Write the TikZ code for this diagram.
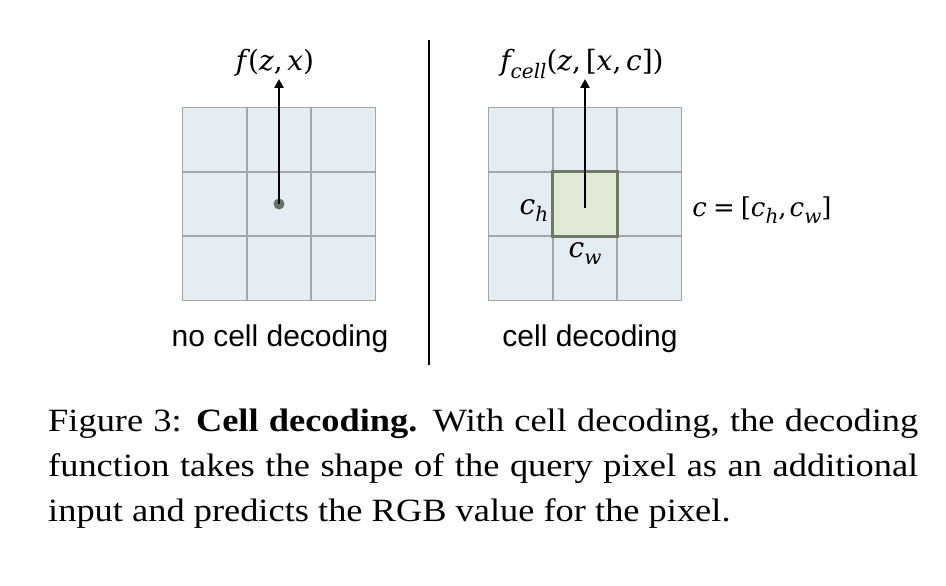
\documentclass[tikz,border=0pt]{standalone}
\usepackage{fontspec}
\setmainfont{Liberation Serif}
\newfontfamily\capfont[FakeStretch=1.12]{Liberation Serif}
\newfontfamily\labelfont{Liberation Sans}
\newfontfamily\mfont{DejaVu Serif}
\newcommand\mv[1]{{\itshape #1}}
\newcommand\msub[1]{\raisebox{-0.27em}{\fontsize{20}{20}\selectfont\itshape #1}}
\usetikzlibrary{arrows.meta}
\definecolor{cellfill}{HTML}{E4ECF4}
\definecolor{cellline}{HTML}{A6A6A6}
\definecolor{qfill}{HTML}{E2EAD6}
\definecolor{qline}{HTML}{6E7866}
\definecolor{dotc}{HTML}{6B7163}
\tikzset{
  gridcell/.style={draw=cellline, fill=cellfill, line width=1.6pt},
  querycell/.style={draw=qline, fill=qfill, line width=3pt},
  uparrow/.style={-{Triangle[length=9pt,width=9pt]}, line width=2.8pt, black},
  mathlbl/.style={font=\mfont\fontsize{28}{34}\selectfont, inner sep=0pt, anchor=base},
  sublbl/.style={font=\labelfont\fontsize{30}{34}\selectfont, inner sep=0pt, anchor=base},
  caplbl/.style={font=\capfont\fontsize{32.5}{40}\selectfont, inner sep=0pt, anchor=base west},
}
\begin{document}
\begin{tikzpicture}[x=1pt,y=-1pt]
\useasboundingbox (0,0) rectangle (946,586);
% left grid
\foreach \i in {0,1,2}{\foreach \j in {0,1,2}{
  \draw[gridcell] (182.5+64.3*\i,107.5+64.3*\j) rectangle ++(64.3,64.3);
}}
% right grid
\foreach \i in {0,1,2}{\foreach \j in {0,1,2}{
  \draw[gridcell] (488.5+64.3*\i,107.5+64.3*\j) rectangle ++(64.3,64.3);
}}
\draw[querycell] (552.8,171.8) rectangle (617.1,236.1);
% left arrow
\fill[dotc] (279,204) circle (5.5pt);
\coordinate (ls) at (279,204);
\node[mathlbl] (lf) at (275,71) {\mv{f}\kern2pt(\mv{z},\,\mv{x})};
\coordinate (lt) at (279,79);
\draw[uparrow] (ls) -- (lt);
% right arrow
\coordinate (rs) at (585,208);
\coordinate (rt) at (585,79);
\node[mathlbl] (rf) at (582,71) {\mv{f}\msub{cell}(\mv{z},\,[\mv{x},\,\mv{c}])};
\draw[uparrow] (rs) -- (rt);
\node[mathlbl] (ch) at (534,214) {\mv{c}\msub{h}};
\node[mathlbl] (cw) at (585,257) {\mv{c}\msub{w}};
\node[mathlbl, font=\mfont\fontsize{26}{32}\selectfont] (ceq) at (762,216) {\mv{c}\kern6pt=\kern6pt[\mv{c}\msub{h},\kern3pt\mv{c}\msub{w}]};
% divider
\coordinate (d1) at (429,40);
\coordinate (d2) at (429,365);
\draw[line width=1.6pt] (d1) -- (d2);
% sub labels
\node[sublbl] (nl) at (280,346) {no cell decoding};
\node[sublbl] (cl) at (590,346) {cell decoding};
% caption
\node[caplbl] (c1) at (48,431) {\makebox[870pt][s]{Figure 3: \textbf{Cell decoding.} With cell decoding, the decoding}};
\node[caplbl] (c2) at (48,476) {\makebox[870pt][s]{function takes the shape of the query pixel as an additional}};
\node[caplbl] (c3) at (48,521) {input and predicts the RGB value for the pixel.};
\end{tikzpicture}
\end{document}
